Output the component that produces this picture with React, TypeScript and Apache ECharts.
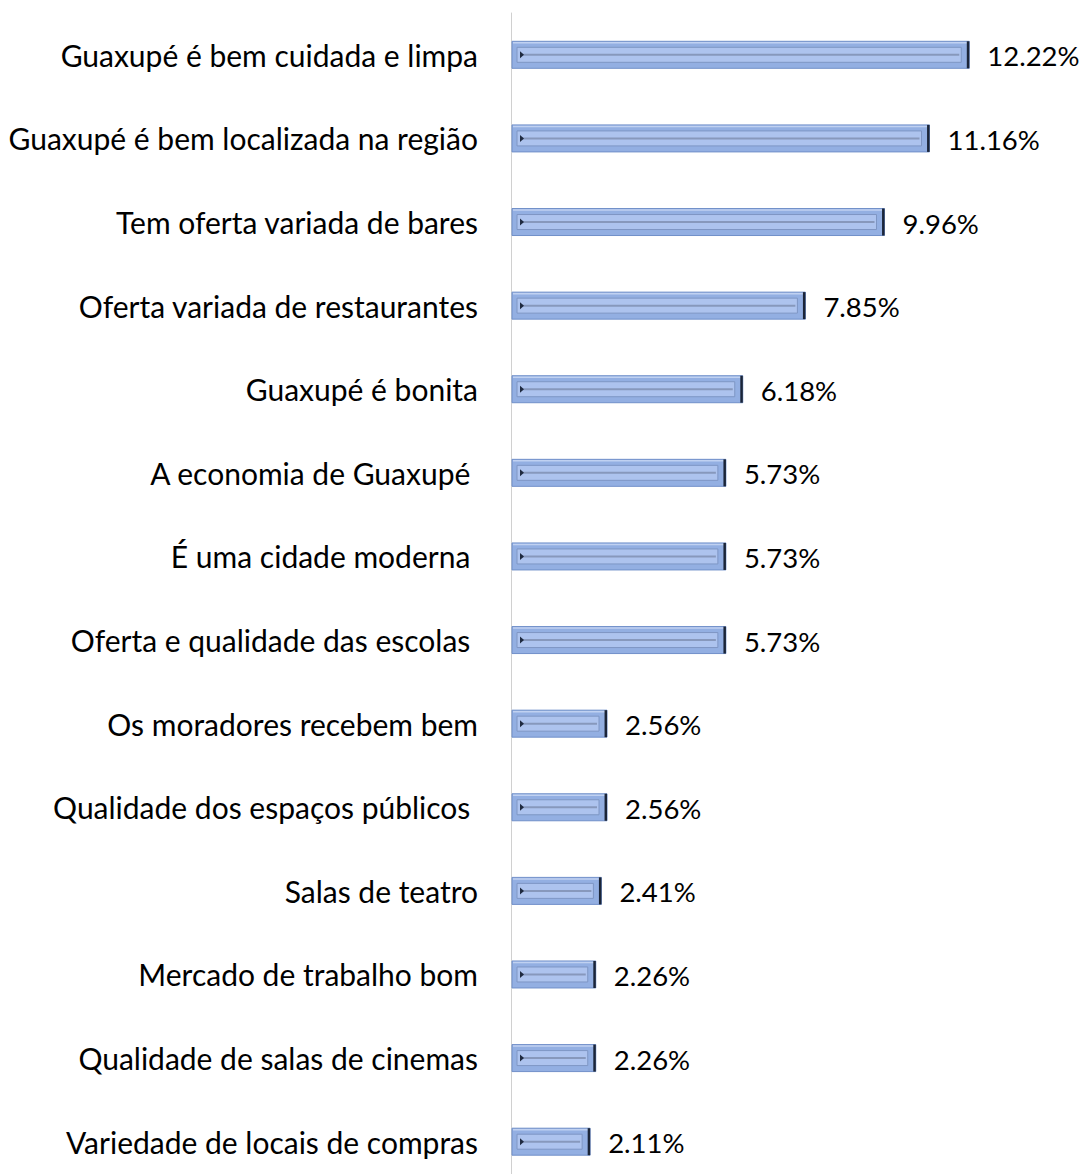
import React, { useEffect, useRef } from "react";
import * as echarts from "echarts";

const categories = [
  "Guaxupé é bem cuidada e limpa",
  "Guaxupé é bem localizada na região",
  "Tem oferta variada de bares",
  "Oferta variada de restaurantes",
  "Guaxupé é bonita",
  "A economia de Guaxupé ",
  "É uma cidade moderna ",
  "Oferta e qualidade das escolas ",
  "Os moradores recebem bem",
  "Qualidade dos espaços públicos ",
  "Salas de teatro",
  "Mercado de trabalho bom",
  "Qualidade de salas de cinemas",
  "Variedade de locais de compras",
];
const values = [12.22, 11.16, 9.96, 7.85, 6.18, 5.73, 5.73, 5.73, 2.56, 2.56, 2.41, 2.26, 2.26, 2.11];

const FONT = "Lato";

export default function App() {
  const ref = useRef<HTMLDivElement>(null);
  useEffect(() => {
    document.body.style.margin = "0";
    const chart = echarts.init(ref.current!, null, { renderer: "svg" });
    const BAR_H = 27;
    chart.setOption({
      animation: false,
      backgroundColor: "#ffffff",
      grid: { left: 511, top: 13, width: 562.5, height: 1170.5, containLabel: false },
      xAxis: {
        type: "value",
        min: 0,
        max: 15,
        show: false,
      },
      yAxis: {
        type: "category",
        data: categories,
        inverse: true,
        axisLine: { show: true, lineStyle: { color: "#D0D0D0", width: 1 } },
        axisTick: { show: false },
        splitLine: { show: false },
        axisLabel: {
          margin: 33,
          fontFamily: FONT,
          fontSize: 30,
          color: "#000000",
        },
      },
      series: [
        {
          type: "custom",
          data: values.map((v, i) => [v, i]),
          encode: { x: 0, y: 1 },
          renderItem: (params: any, api: any) => {
            const v = api.value(0);
            const idx = api.value(1);
            const s = api.coord([0, idx]);
            const e = api.coord([v, idx]);
            const x0 = s[0] + 1;
            const x1 = e[0];
            const cy = s[1];
            const y = cy - BAR_H / 2;
            const w = x1 - x0;
            return {
              type: "group",
              children: [
                {
                  type: "rect",
                  shape: { x: x0, y, width: w, height: BAR_H },
                  style: { fill: "#93AFE2", stroke: "#7190C9", lineWidth: 1 },
                },
                {
                  type: "line",
                  shape: { x1: x0 + 1, y1: y + 1.5, x2: x1 - 1, y2: y + 1.5 },
                  style: { stroke: "#C0D1F1", lineWidth: 1.5 },
                },
                {
                  type: "rect",
                  shape: { x: x0 + 5, y: y + 6, width: w - 13, height: BAR_H - 12 },
                  style: { fill: "#ADC3EE", stroke: "#7E96C4", lineWidth: 1 },
                },
                {
                  type: "line",
                  shape: { x1: x0 + 8, y1: cy, x2: x1 - 10, y2: cy },
                  style: { stroke: "#8798BC", lineWidth: 2 },
                },
                {
                  type: "polygon",
                  shape: { points: [[x0 + 8, cy - 3.5], [x0 + 12, cy], [x0 + 8, cy + 3.5]] },
                  style: { fill: "#1F2A40" },
                },
                {
                  type: "line",
                  shape: { x1: x1 - 1.2, y1: y, x2: x1 - 1.2, y2: y + BAR_H },
                  style: { stroke: "#1B2538", lineWidth: 2.5 },
                },
                {
                  type: "text",
                  style: {
                    x: x1 + 18,
                    y: cy + 1,
                    text: v.toFixed(2) + "%",
                    fontFamily: FONT,
                    fontSize: 27.5,
                    fill: "#000000",
                    verticalAlign: "middle",
                    align: "left",
                  },
                },
              ],
            };
          },
        },
      ],
    });
    return () => chart.dispose();
  }, []);
  return (
    <div style={{ width: 1086, height: 1174, overflow: "hidden" }}>
      <div ref={ref} style={{ width: 1086, height: 1200 }} />
    </div>
  );
}
